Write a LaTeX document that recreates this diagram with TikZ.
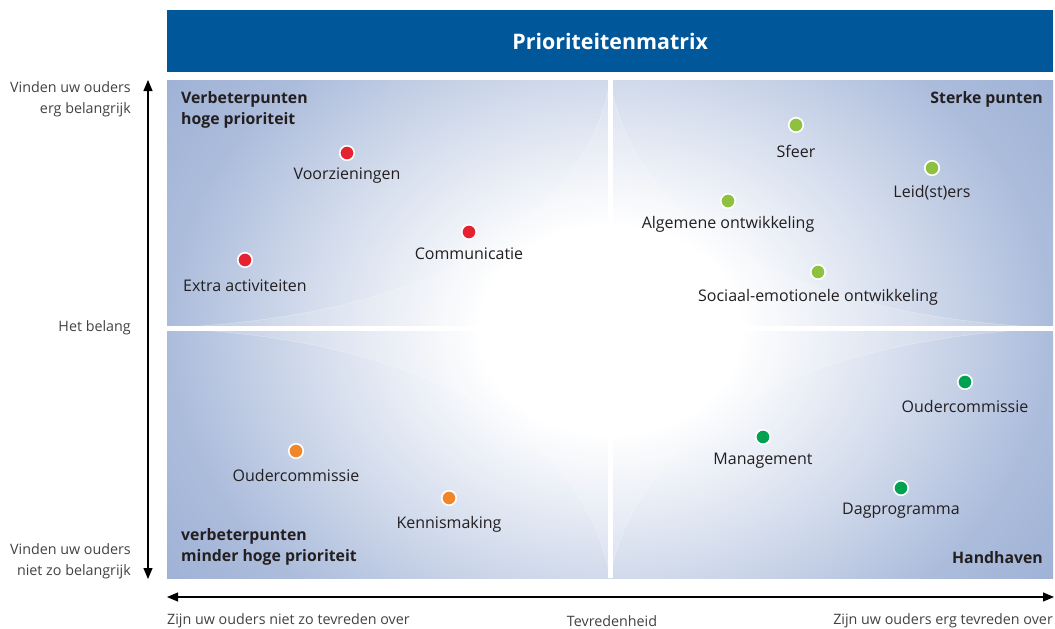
\documentclass[tikz,border=0pt]{standalone}
\usepackage{fontspec}
\setmainfont{Open Sans}
\usetikzlibrary{arrows.meta}
\definecolor{hdr}{HTML}{00589B}
\definecolor{qblue}{HTML}{9FB2D6}
\definecolor{cred}{HTML}{E52330}
\definecolor{clgreen}{HTML}{8DC13F}
\definecolor{cdgreen}{HTML}{00A150}
\definecolor{corange}{HTML}{F0862A}
\definecolor{txt}{HTML}{231F20}
\pgfdeclareradialshading{quadshade}{\pgfpoint{0bp}{0bp}}{%
  color(0bp)=(white); color(5bp)=(white); color(11.5bp)=(qblue!45!white);
  color(17bp)=(qblue!87!white); color(21bp)=(qblue); color(50bp)=(qblue)}
\tikzset{
  lbl/.style={font=\fontsize{16}{19}\selectfont, text=txt, inner sep=0pt},
  qlbl/.style={font=\fontsize{15.8}{21}\selectfont\bfseries, text=txt, inner sep=0pt, align=left},
  axlbl/.style={font=\fontsize{14.3}{21}\selectfont, text=txt!85, inner sep=0pt},
  dot/.style={circle, inner sep=0pt, minimum size=14.5pt, draw=white, line width=1.6pt},
  axis/.style={line width=1.1pt, {Triangle[length=11pt,width=9pt]}-{Triangle[length=11pt,width=9pt]}},
}
\begin{document}
\begin{tikzpicture}[x=1pt,y=-1pt]
\useasboundingbox (0,0) rectangle (1055,629);
\fill[white] (0,0) rectangle (1055,629);
% header
\node[fill=hdr, minimum width=886pt, minimum height=62pt, inner sep=0pt, anchor=north west,
  text=white, font=\fontsize{21.4}{25}\selectfont\bfseries] (hdr) at (167,10) {Prioriteitenmatrix};
% quadrant background
\begin{scope}
\clip (167,80) rectangle (1053,578);
\shade[shading=quadshade] (-40,-190) rectangle (1260,850);
\fill[white, opacity=0.15] (167,328) .. controls (520,312) and (598,160) .. (610,80)
  .. controls (622,160) and (700,312) .. (1053,328)
  .. controls (700,344) and (622,500) .. (610,578)
  .. controls (598,500) and (520,344) .. (167,328) -- cycle;
\draw[white, opacity=0.3, line width=0.6pt] (167,328) .. controls (520,312) and (598,160) .. (610,80)
  .. controls (622,160) and (700,312) .. (1053,328)
  .. controls (700,344) and (622,500) .. (610,578)
  .. controls (598,500) and (520,344) .. (167,328) -- cycle;
\end{scope}
\fill[white] (608,80) rectangle (613,578);
\fill[white] (167,326) rectangle (1053,331);
% quadrant labels
\node[qlbl, anchor=north west] (q1) at (181,91) {Verbeterpunten\\hoge prioriteit};
\node[qlbl, anchor=north east] (q2) at (1043,91) {Sterke punten};
\node[qlbl, anchor=north west] (q3) at (181,528) {verbeterpunten\\minder hoge prioriteit};
\node[qlbl, anchor=north east] (q4) at (1043,551) {Handhaven};
% dots and labels
\node[dot, fill=cred] (d1) at (347,153) {};
\node[lbl] (l1) at (347,176) {Voorzieningen};
\node[dot, fill=cred] (d2) at (469,232) {};
\node[lbl] (l2) at (469,254) {Communicatie};
\node[dot, fill=cred] (d3) at (245,260) {};
\node[lbl] (l3) at (245,286) {Extra activiteiten};
\node[dot, fill=clgreen] (d4) at (796,125) {};
\node[lbl] (l4) at (796,151) {Sfeer};
\node[dot, fill=clgreen] (d5) at (932,168) {};
\node[lbl] (l5) at (932,193) {Leid(st)ers};
\node[dot, fill=clgreen] (d6) at (728,201) {};
\node[lbl] (l6) at (728,224) {Algemene ontwikkeling};
\node[dot, fill=clgreen] (d7) at (818,272) {};
\node[lbl] (l7) at (818,297) {Sociaal-emotionele ontwikkeling};
\node[dot, fill=cdgreen] (d8) at (965,382) {};
\node[lbl] (l8) at (965,406) {Oudercommissie};
\node[dot, fill=cdgreen] (d9) at (763,437) {};
\node[lbl] (l9) at (763,461) {Management};
\node[dot, fill=cdgreen] (d10) at (901,488) {};
\node[lbl] (l10) at (901,511) {Dagprogramma};
\node[dot, fill=corange] (d11) at (296,451) {};
\node[lbl] (l11) at (296,475) {Oudercommissie};
\node[dot, fill=corange] (d12) at (449,498) {};
\node[lbl] (l12) at (449,524) {Kennismaking};
% axes
\coordinate (vtop) at (148,80);
\coordinate (vbot) at (148,579);
\coordinate (hl) at (167,597);
\coordinate (hr) at (1054,597);
\draw[axis] (vbot) -- (vtop);
\draw[axis] (hl) -- (hr);
% axis labels
\node[axlbl, anchor=east, align=right] (a1) at (131,99) {Vinden uw ouders\\erg belangrijk};
\node[axlbl, anchor=east] (a2) at (131,328) {Het belang};
\node[axlbl, anchor=east, align=right] (a3) at (131,561) {Vinden uw ouders\\niet zo belangrijk};
\node[axlbl, anchor=west] (a4) at (167,621) {Zijn uw ouders niet zo tevreden over};
\node[axlbl] (a5) at (612,621) {Tevredenheid};
\node[axlbl, anchor=east] (a6) at (1053,621) {Zijn uw ouders erg tevreden over};
\end{tikzpicture}
\end{document}
